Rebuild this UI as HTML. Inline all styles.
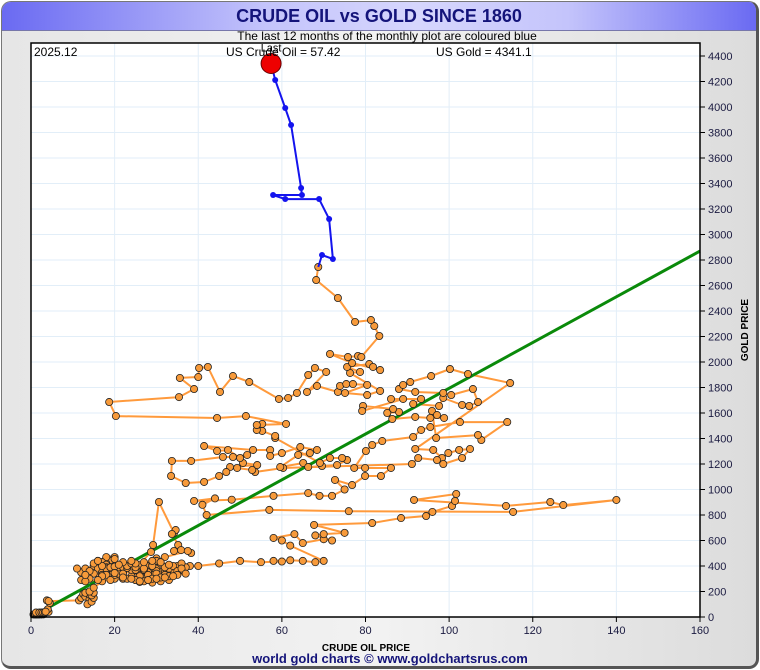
<!DOCTYPE html>
<html><head><meta charset="utf-8">
<style>
html,body{margin:0;padding:0;background:#fff;}
body{width:760px;height:670px;position:relative;overflow:hidden;font-family:"Liberation Sans",sans-serif;}
#frame{position:absolute;left:1px;top:1px;width:754px;height:664px;border:1px solid #777;border-right:3px solid #555;border-bottom:3px solid #555;border-radius:10px;background:linear-gradient(90deg,#e6e6e6,#f2f2f2 50%,#dcdcdc);overflow:hidden;}
#titlebar{position:absolute;left:0;top:0;width:754px;height:28px;background:linear-gradient(90deg,#6a6af2,#c4c4fb 35%,#d6d6fd 55%,#c4c4fb 75%,#6a6af2);border-bottom:1px solid #7777aa;}
#title{position:absolute;left:0;width:754px;top:4px;text-align:center;font-weight:bold;font-size:18px;color:#14147a;}
</style></head><body>
<div id="frame">
<div id="titlebar"><div id="title">CRUDE OIL vs GOLD SINCE 1860</div></div>
</div>
<svg id="chart" width="760" height="670" style="position:absolute;left:0;top:0"></svg>
<script>
const oilEarly=[1.0,2.5,1.5,0.6,1.2,3.0,2.0,1.0,1.3,1.7,1.2,2.0,2.8,3.2,2.5,3.0,2.9,3.5,4.2,3.3,4.0,3.5,4.5,3.8,4.2];
const goldEarly=[20,20,21,20,20,21,20,20,21,20,35,35,35,35,35,35,35,37,40,36,60,42,110,130,125];
const oil70s=[11.5,12,12.5,13,14,13.5,14.5,15,14,13,14.5,15,14,15,17,20,25,28.7,29.2,30.6,34.2,34.6,33.7,35.2,34.2,35.9,38.3,37.5];
const gold70s=[130,150,180,160,140,100,120,150,175,190,170,190,200,230,280,300,380,510,565,902,659,682,651,565,518,525,502,518];
const oilMid=[32,31,30,29,28,30,31,29,28,29,30,29,27,28,26,27,26,25,24,15,12,11,13,15,17,19,18,20,19,18,17,16,18,20,17,16,19,18,20,21,19,20,18,17,19,21,20,18,16,22,30,27,22,20,19,20,18,17,20,19,18,17,20,22,21,20,18,19,20,22,24,21,19,20,22,23,25,22,20,18,17,15,14,12,13,16,19,22,26,29,31,33,28,30,27,25,26,28,30,32,33,35,34,30,32,36,38,37,35,36,
23,24,26,25,27,29,31,33,32,34,35,36,33,31,29,27,25,24,22,21,23,25,27,29,31,33,35,37,34,32,30,28,26,24,22,17,15,16,14,13];
const goldMid=[470,430,460,420,400,380,350,330,400,410,440,390,380,350,330,310,330,310,320,340,350,380,380,400,420,450,460,470,440,420,410,440,470,455,430,400,390,410,400,380,370,360,380,360,340,350,380,390,380,360,380,370,375,360,355,350,355,350,340,330,340,330,330,350,340,370,380,390,385,380,370,390,390,395,390,385,370,340,345,330,320,340,300,290,280,290,290,300,275,270,280,290,290,310,300,290,320,330,360,350,360,340,370,340,330,370,400,390,400,420,
400,420,410,390,380,400,420,380,390,400,360,380,410,430,440,430,420,440,430,410,300,290,280,300,310,320,330,340,320,310,300,290,280,300,310,400,420,440,360,330];
const oil2000s=[40,45,50,55,60,58,62,65,68,70,62,60,58,63,65,70,72,68,70,75,67.7,81.6,88.5,94.5,96,100.7,101.4,101.7,91.6,113.6,124.2,127.3,140,115.3,76,57,42,41,44,39,48,58,66.3,69,72,75];
const gold2000s=[400,420,440,430,435,440,445,440,430,440,560,600,620,650,580,610,600,640,650,660,722,737,776,792,824,871,910,965,918,871,902,878,918,824,830,840,800,880,930,910,920,950,972,950,950,1000];
const oil2010s=[72.7,76.8,79.9,83.7,86.1,79.9,77.3,80.1,81.6,84,91.4,93.3,95.5,102.6,113.9,107.7,106.9,96.9,95.9,97.1,98.8,95.5,91.9,86.4,85.2,88,86.6,79.4,79.2,89,86.1,93.3,91.4,97.6,98.6,103.1,104.8,106.9,105.7,100.5,98.6,91.9,88,89,90.7,95.7,100.2,104.5,114.6,91.9,96.2,98.3,99.8,102.4,105,103.1,98.6,97.1,92.6,91.1,60.3,53.6,52.9,49.3,50.7,54.1,47.6,46.7,45,41.4,37,33.5,33.7,38.3,45.9,48.3,51.7,50,47.1,44.5,41.4,53.1,57.2,57.2,60,64.4,68.4,66.7,63.9,59.6,65.1,66.3,69.6,73.2,75.6,74.4,71.5,69.1];
const gold2010s=[1075,1035,1106,1106,1169,1169,1169,1302,1349,1380,1412,1467,1490,1529,1529,1388,1427,1404,1616,1584,1561,1561,1569,1553,1600,1608,1631,1655,1616,1710,1710,1710,1671,1655,1718,1663,1655,1686,1788,1741,1757,1765,1788,1820,1843,1890,1945,1906,1835,1318,1310,1247,1286,1310,1318,1247,1200,1231,1247,1200,1169,1137,1153,1169,1208,1192,1176,1137,1106,1059,1051,1106,1224,1224,1255,1255,1271,1247,1310,1302,1341,1310,1310,1263,1286,1333,1310,1286,1271,1176,1208,1176,1184,1192,1231,1247,1247,1208];
const oil2020s=[58.4,58.4,55.3,54,55.3,54,61,51.4,44.5,20.3,18.7,35.4,39,35.6,40,40.2,42.3,45.2,48.3,52.2,59.3,61.5,63.6,66.3,67.9,70.6,66,68.4,73.4,73.9,75.4,77,80.4,75.1,80.4,83.5,76.3,78.7,75.6,80.9,81.8,83.5,76.8,71.5,75.8,78.2,79,83.3,82.1,81.3,77.5,73.4,68.2,68.7];
const gold2020s=[1404,1420,1459,1467,1514,1506,1514,1576,1561,1576,1686,1725,1788,1875,1882,1953,1961,1765,1890,1843,1710,1718,1757,1898,1953,1922,1765,1812,1765,1812,1827,1827,1820,1757,1741,1773,1914,1922,1961,1984,1961,1937,1992,2063,2039,2047,2039,2204,2282,2329,2314,2502,2643,2745];
const oilLast12=[69.6,72.2,71.3,68.9,60.8,57.9,64.8,64.6,62.2,60.8,58.4,57.42];
const goldLast12=[2839,2808,3122,3278,3278,3310,3310,3365,3859,3992,4212,4341.1];
const xTicks=[0,20,40,60,80,100,120,140,160];
const yTicks=[0,200,400,600,800,1000,1200,1400,1600,1800,2000,2200,2400,2600,2800,3000,3200,3400,3600,3800,4000,4200,4400];
const trendOil=[0,160];
const trendGold=[0,2870];

const NS="http://www.w3.org/2000/svg";
const svg=document.getElementById('chart');
const L=31,R=700,T=43,B=617;
function sx(v){return L+(v/160)*(R-L);}
function sy(v){return B-v*0.1275;}
function mk(tag,attrs,parent){const e=document.createElementNS(NS,tag);for(const k in attrs)e.setAttribute(k,attrs[k]);(parent||svg).appendChild(e);return e;}

const plot=mk('rect',{x:L,y:T,width:R-L,height:B-T,fill:'#fff'});


xTicks.forEach(t=>{const g=mk('line',{x1:sx(t),x2:sx(t),y1:T,y2:B,stroke:'#e2eef8','stroke-width':1});

});
yTicks.forEach(t=>{const g=mk('line',{x1:L,x2:R,y1:sy(t),y2:sy(t),stroke:'#e2eef8','stroke-width':1});

});

const oilAll=[].concat(oilEarly,oil70s,oilMid,oil2000s,oil2010s,oil2020s);
const goldAll=[].concat(goldEarly,gold70s,goldMid,gold2000s,gold2010s,gold2020s);

const trend=mk('line',{x1:sx(trendOil[0]),y1:sy(trendGold[0]),x2:sx(trendOil[1]),y2:sy(trendGold[1]),stroke:'#0a8a0a','stroke-width':3});



let d=oilAll.map((o,i)=>(i?'L':'M')+sx(o).toFixed(1)+' '+sy(goldAll[i]).toFixed(1)).join(' ');
const path=mk('path',{d:d,fill:'none',stroke:'#ff9a3c','stroke-width':2,'stroke-linejoin':'round'});


svg.insertBefore(path,trend);

oilAll.forEach((o,i)=>{const c=mk('circle',{cx:sx(o),cy:sy(goldAll[i]),r:3.6,fill:'#f79a3a',stroke:'#222','stroke-width':0.8});

});

const bo=[oilAll[oilAll.length-1]].concat(oilLast12), bg=[goldAll[goldAll.length-1]].concat(goldLast12);
let d2=bo.map((o,i)=>(i?'L':'M')+sx(o).toFixed(1)+' '+sy(bg[i]).toFixed(1)).join(' ');
const bl=mk('path',{d:d2,fill:'none',stroke:'#1414ee','stroke-width':2});


oilLast12.forEach((o,i)=>{if(i===oilLast12.length-1)return;const c=mk('circle',{cx:sx(o),cy:sy(goldLast12[i]),r:3,fill:'#1414ee'});

});
const li=oilLast12.length-1;
const red=mk('circle',{cx:sx(oilLast12[li]),cy:sy(goldLast12[li]),r:10,fill:'#ee0000',stroke:'#660000','stroke-width':1});


const lt=mk('text',{x:sx(oilLast12[li]),y:sy(goldLast12[li])-12,'text-anchor':'middle','font-size':11,fill:'#000'});lt.textContent='Last';



const border=mk('rect',{x:L,y:T,width:R-L,height:B-T,fill:'none',stroke:'#000','stroke-width':1.5});



xTicks.forEach(t=>{mk('line',{x1:sx(t),x2:sx(t),y1:B,y2:B+5,stroke:'#000'});
const tx=mk('text',{x:sx(t),y:B+17,'text-anchor':'middle','font-size':11,fill:'#1a1a40'});tx.textContent=t;

});
yTicks.forEach(t=>{mk('line',{x1:R,x2:R+5,y1:sy(t),y2:sy(t),stroke:'#000'});
const tx=mk('text',{x:R+8,y:sy(t)+4,'font-size':11,fill:'#1a1a40'});tx.textContent=t;

});

function txt(s,a,name){const e=mk('text',a);e.textContent=s;

return e;}
txt('The last 12 months of the monthly plot are coloured blue',{x:387,y:40,'text-anchor':'middle','font-size':12,fill:'#000'},'subtitle');
txt('2025.12',{x:34,y:56,'font-size':12,fill:'#000'},'date-label');
txt('US Crude Oil = 57.42',{x:226,y:56,'font-size':12,fill:'#000'},'oil-value-label');
txt('US Gold = 4341.1',{x:436,y:56,'font-size':12,fill:'#000'},'gold-value-label');
txt('CRUDE OIL PRICE',{x:366,y:651,'text-anchor':'middle','font-size':10,'font-weight':'bold',fill:'#000'},'x-axis-title');
txt('GOLD PRICE',{x:748,y:330,'text-anchor':'middle','font-size':10,'font-weight':'bold',fill:'#000',transform:'rotate(-90 748 330)'},'y-axis-title');
txt('world gold charts \u00a9 www.goldchartsrus.com',{x:390,y:663,'text-anchor':'middle','font-size':13,'font-weight':'bold',fill:'#14147a'},'footer-credit');
</script>
</body></html>
